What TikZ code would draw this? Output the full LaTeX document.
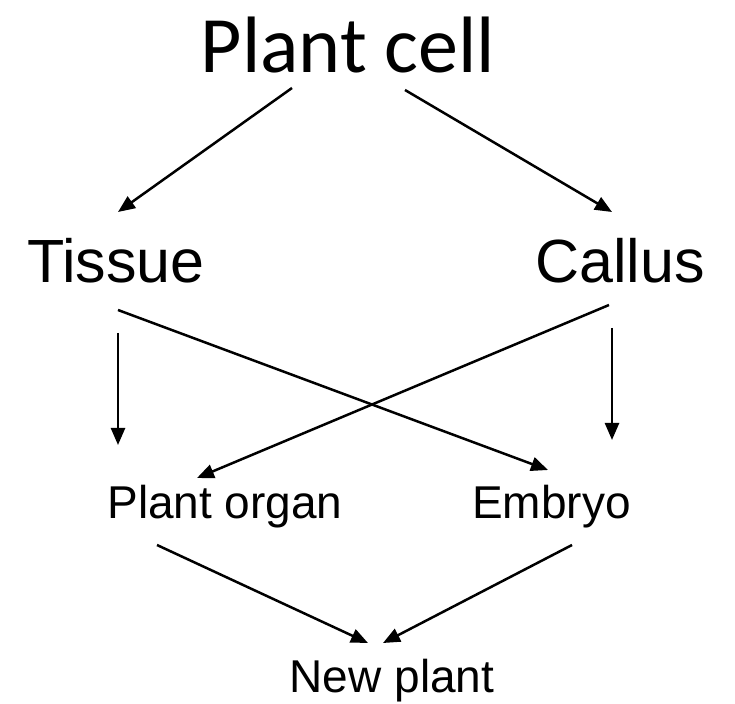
\documentclass[tikz,border=0pt]{standalone}
\usepackage{fontspec}
\setmainfont{Liberation Sans}
\newfontfamily\titlefont{Carlito}
\usepackage{tikz}
\usetikzlibrary{arrows.meta}

\begin{document}
\begin{tikzpicture}[x=1pt, y=1pt, >={Triangle[length=17pt, width=14pt]},
    flow/.style={->, line width=2.5pt},
    stage/.style={inner sep=0pt, anchor=base}]
  \useasboundingbox (0,0) rectangle (735,703);
  % top and middle rows
  \node[stage, font=\titlefont\fontsize{80}{90}\selectfont] (cell) at (348,630) {Plant cell};
  \node[stage, font=\fontsize{61}{70}\selectfont] (tissue) at (116,420) {Tissue};
  \node[stage, font=\fontsize{61}{70}\selectfont] (callus) at (620,420) {Callus};
  % lower rows
  \node[stage, font=\fontsize{46}{54}\selectfont] (organ) at (225,184) {Plant organ};
  \node[stage, font=\fontsize{46}{54}\selectfont] (embryo) at (551.5,184) {Embryo};
  \node[stage, font=\fontsize{46}{54}\selectfont] (newplant) at (392,11) {New plant};
  % arrows
  \draw[flow] ([shift={(-56,-15)}]cell.base) -- ([shift={(2,71)}]tissue.base);
  \draw[flow] ([shift={(57,-17)}]cell.base) -- ([shift={(-8,71)}]callus.base);
  \draw[flow] ([shift={(2,-50)}]tissue.base) -- ([shift={(-107,74)}]organ.base);
  \draw[flow] ([shift={(-8,-45)}]callus.base) -- ([shift={(60.5,79)}]embryo.base);
  \draw[flow] ([shift={(2,-27)}]tissue.base) -- ([shift={(-3.5,49)}]embryo.base);
  \draw[flow] ([shift={(-11,-22)}]callus.base) -- ([shift={(-28,41)}]organ.base);
  \draw[flow] ([shift={(-68,-26)}]organ.base) -- ([shift={(-24,49)}]newplant.base);
  \draw[flow] ([shift={(20.5,-26)}]embryo.base) -- ([shift={(-9,49)}]newplant.base);
\end{tikzpicture}
\end{document}
